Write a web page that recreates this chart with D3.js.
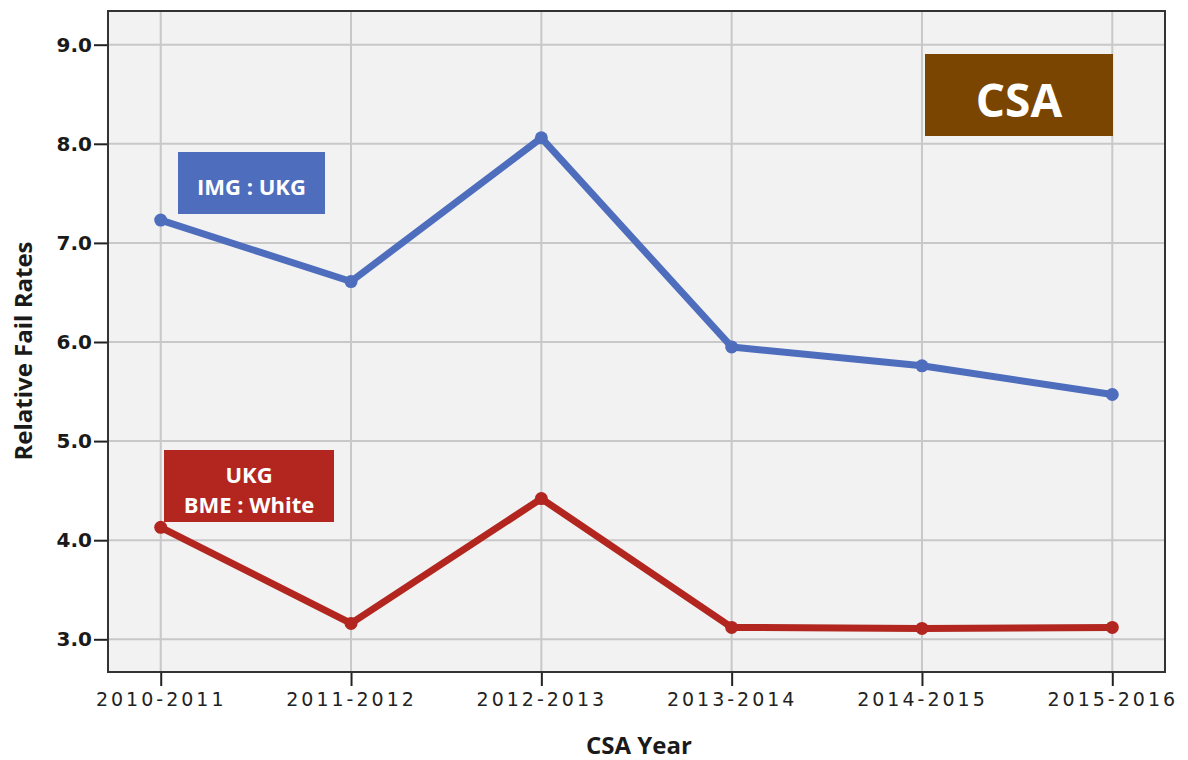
<!DOCTYPE html>
<html>
<head>
<meta charset="utf-8">
<script src="https://cdn.jsdelivr.net/npm/d3@7"></script>
<style>
  body { margin: 0; background: #fff; }
  svg { display: block; }
</style>
</head>
<body>
<svg width="1188" height="760"></svg>
<script>
var years = ["2010-2011", "2011-2012", "2012-2013", "2013-2014", "2014-2015", "2015-2016"];
var imgUkg = [7.23, 6.61, 8.06, 5.95, 5.76, 5.47];
var bmeWhite = [4.13, 3.16, 4.42, 3.12, 3.11, 3.12];
var yTicks = [3, 4, 5, 6, 7, 8, 9];

var svg = d3.select("svg"),
    plotLeft = 108, plotRight = 1165, plotTop = 11, plotBottom = 672;

var xScale = d3.scalePoint().domain(years).range([plotLeft, plotRight]).padding(0.277),
    yScale = d3.scaleLinear().domain([2.67, 9.34]).range([plotBottom, plotTop]);

// plot background
svg.append("rect")
    .attr("x", plotLeft).attr("y", plotTop)
    .attr("width", plotRight - plotLeft).attr("height", plotBottom - plotTop)
    .attr("fill", "#f2f2f2");

// grid
svg.append("g").selectAll("line")
    .data(yTicks)
    .enter().append("line")
    .attr("x1", plotLeft).attr("x2", plotRight)
    .attr("y1", d => yScale(d)).attr("y2", d => yScale(d))
    .attr("stroke", "#c8c8c8").attr("stroke-width", 2);

svg.append("g").selectAll("line")
    .data(years)
    .enter().append("line")
    .attr("x1", d => xScale(d)).attr("x2", d => xScale(d))
    .attr("y1", plotTop).attr("y2", plotBottom)
    .attr("stroke", "#c8c8c8").attr("stroke-width", 2);

// axes
var yAxis = svg.append("g")
    .attr("transform", "translate(" + plotLeft + ",0)")
    .call(d3.axisLeft(yScale).tickValues(yTicks).tickFormat(d3.format(".1f")).tickSize(14).tickPadding(2));
yAxis.select(".domain").remove();
yAxis.selectAll(".tick line").attr("stroke", "#222").attr("stroke-width", 2);
yAxis.selectAll("text")
    .attr("fill", "#1a1a1a")
    .style("font-family", "DejaVu Sans")
    .style("font-weight", "bold")
    .style("font-size", "20px");

var xAxis = svg.append("g")
    .attr("transform", "translate(0," + plotBottom + ")")
    .call(d3.axisBottom(xScale).tickSize(14).tickPadding(7));
xAxis.select(".domain").remove();
xAxis.selectAll(".tick line").attr("stroke", "#222").attr("stroke-width", 2);
xAxis.selectAll("text")
    .attr("fill", "#222")
    .style("font-family", "DejaVu Sans")
    .style("font-size", "19px")
    .style("letter-spacing", "3px");

// frame
svg.append("rect")
    .attr("x", plotLeft).attr("y", plotTop)
    .attr("width", plotRight - plotLeft).attr("height", plotBottom - plotTop)
    .attr("fill", "none").attr("stroke", "#333").attr("stroke-width", 2);

// axis titles
svg.append("text")
    .attr("transform", "translate(32,351) rotate(-90)")
    .attr("text-anchor", "middle")
    .attr("fill", "#1a1a1a")
    .style("font-family", "Open Sans")
    .style("font-weight", "bold")
    .style("font-size", "24px")
    .text("Relative Fail Rates");

svg.append("text")
    .attr("x", 639).attr("y", 754)
    .attr("text-anchor", "middle")
    .attr("fill", "#1a1a1a")
    .style("font-family", "Open Sans")
    .style("font-weight", "bold")
    .style("font-size", "24px")
    .text("CSA Year");

// series
var series = [
    { values: imgUkg, color: "#4e6ebd" },
    { values: bmeWhite, color: "#b2261f" }
];

var line = d3.line()
    .x((d, i) => xScale(years[i]))
    .y(d => yScale(d));

series.forEach(function(s) {
    svg.append("path")
        .datum(s.values)
        .attr("d", line)
        .attr("fill", "none")
        .attr("stroke", s.color)
        .attr("stroke-width", 7)
        .attr("stroke-linejoin", "round");

    svg.append("g").selectAll("circle")
        .data(s.values)
        .enter().append("circle")
        .attr("cx", (d, i) => xScale(years[i]))
        .attr("cy", d => yScale(d))
        .attr("r", 6.5)
        .attr("fill", s.color);
});

// annotation boxes
function label(x, y, w, h, fill, lines, size, lineH, firstBase) {
    svg.append("rect")
        .attr("x", x).attr("y", y).attr("width", w).attr("height", h)
        .attr("fill", fill);
    lines.forEach(function(t, i) {
        svg.append("text")
            .attr("x", x + w / 2)
            .attr("y", y + firstBase + i * lineH)
            .attr("text-anchor", "middle")
            .attr("fill", "#fff")
            .style("font-family", "Open Sans")
            .style("font-weight", "bold")
            .style("font-size", size + "px")
            .text(t);
    });
}

label(178, 152, 147, 62, "#4e6ebd", ["IMG : UKG"], 22, 0, 43);
label(164, 450, 170, 72, "#b2261f", ["UKG", "BME : White"], 22, 30, 33);
label(925, 54, 188, 82, "#7a4500", ["CSA"], 46, 0, 63);
</script>
</body>
</html>
